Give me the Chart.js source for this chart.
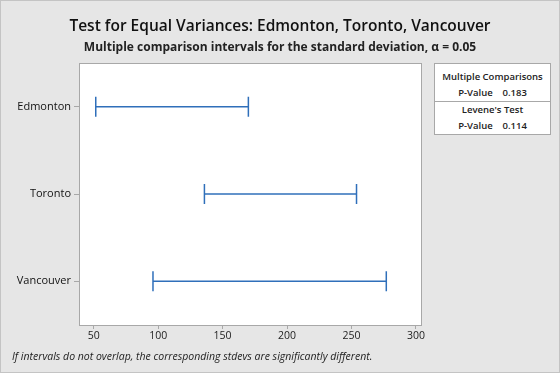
<!DOCTYPE html>
<html>
<head>
<meta charset="utf-8">
<script src="https://cdn.jsdelivr.net/npm/chart.js@4/dist/chart.umd.min.js"></script>
<style>
  html, body { margin: 0; padding: 0; }
  body { width: 560px; height: 373px; overflow: hidden; font-family: "Open Sans", "Noto Sans", sans-serif; }
  #wrap { position: relative; width: 558px; height: 371px; background: #e6e6e6; border: 1px solid #c4c4c4; }
  canvas { position: absolute; left: 0; top: 0; }
  .title { position: absolute; left: 0; width: 558px; text-align: center; color: #111; }
  #t1 { top: 13px; font-size: 15.5px; font-weight: 600; }
  #t2 { top: 37px; font-size: 12px; font-weight: 700; color: #222; }
  #box { position: absolute; left: 433px; top: 62px; width: 117px; height: 72px; background: #fff; border: 1px solid #a8a8a8; font-size: 9.5px; font-weight: 600; color: #222; padding-top: 5px; box-sizing: border-box; }
  #box div { text-align: center; height: 16px; line-height: 16px; }
  #box .sep { border-top: 1px solid #a8a8a8; }
  #note { position: absolute; left: 11px; top: 348px; font-size: 10.5px; font-style: italic; color: #222; }
</style>
</head>
<body>
<div id="wrap">
  <canvas id="chart" width="558" height="371"></canvas>
  <div class="title" id="t1">Test for Equal Variances: Edmonton, Toronto, Vancouver</div>
  <div class="title" id="t2">Multiple comparison intervals for the standard deviation, α = 0.05</div>
  <div id="box">
    <div>Multiple Comparisons</div>
    <div>P-Value&nbsp;&nbsp;&nbsp;&nbsp;0.183</div>
    <div class="sep">Levene's Test</div>
    <div>P-Value&nbsp;&nbsp;&nbsp;&nbsp;0.114</div>
  </div>
  <div id="note">If intervals do not overlap, the corresponding stdevs are significantly different.</div>
</div>
<script>
const cities = ['Edmonton', 'Toronto', 'Vancouver'];
const lower = [51.6, 135.9, 96];
const upper = [170, 253.9, 277];
const xTicks = [50, 100, 150, 200, 250, 300];

const blue = '#2f6fba';

// one dataset per interval, caps drawn as rotated line points
const datasets = cities.map((c, i) => ({
  data: [{x: lower[i], y: c}, {x: upper[i], y: c}],
  borderColor: blue,
  borderWidth: 1.5,
  pointStyle: 'line',
  pointRotation: 90,
  pointRadius: 10,
  pointBorderWidth: 1.5,
  pointBorderColor: blue,
  showLine: true,
  fill: false
}));

const plotBox = {
  id: 'plotBox',
  beforeDraw(chart) {
    const a = chart.chartArea, ctx = chart.ctx;
    ctx.save();
    ctx.fillStyle = '#fff';
    ctx.fillRect(a.left, a.top, a.right - a.left, a.bottom - a.top);
    ctx.restore();
  },
  afterDraw(chart) {
    const a = chart.chartArea, ctx = chart.ctx;
    ctx.save();
    ctx.strokeStyle = '#a8a8a8';
    ctx.lineWidth = 1;
    ctx.strokeRect(a.left + 0.5, a.top + 0.5, a.right - a.left - 1, a.bottom - a.top);
    ctx.restore();
  }
};

new Chart(document.getElementById('chart'), {
  type: 'line',
  data: { labels: cities, datasets: datasets },
  plugins: [plotBox],
  options: {
    responsive: false,
    animation: false,
    layout: { padding: { left: 0, right: 137, top: 62, bottom: 27 } },
    plugins: { legend: { display: false }, tooltip: { enabled: false } },
    scales: {
      x: {
        type: 'linear',
        min: 38.6,
        max: 304.7,
        afterBuildTicks: s => { s.ticks = xTicks.map(v => ({value: v})); },
        afterFit: s => { s.height = 20; },
        ticks: { color: '#222', font: { size: 10.5, family: 'Open Sans' }, padding: 1, maxRotation: 0 },
        grid: { drawOnChartArea: false, tickLength: 4, color: '#a8a8a8' },
        border: { display: false }
      },
      y: {
        type: 'category',
        labels: cities,
        offset: true,
        afterFit: s => { s.width = 78; },
        ticks: { color: '#111', font: { size: 11, family: 'Open Sans' }, padding: 3 },
        grid: { drawOnChartArea: false, tickLength: 5, color: '#a8a8a8', offset: false },
        border: { display: false }
      }
    }
  }
});
</script>
</body>
</html>
